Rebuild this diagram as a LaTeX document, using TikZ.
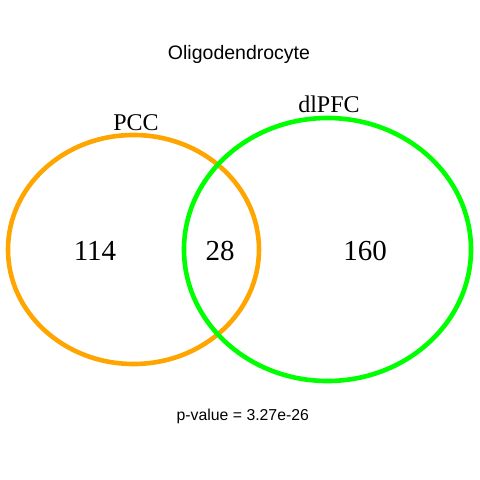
\documentclass[tikz,border=0pt]{standalone}
\usepackage{fontspec}
\setmainfont{Liberation Serif}
\newfontfamily\arialfont{Liberation Sans}
\definecolor{vorange}{HTML}{FFA500}
\definecolor{vgreen}{HTML}{00FF00}
\begin{document}
\begin{tikzpicture}[x=1pt,y=-1pt,
  setline/.style={line width=4.6pt},
  setlabel/.style={anchor=base,inner sep=0pt,font=\fontsize{24}{24}\selectfont},
  countlabel/.style={anchor=base,inner sep=0pt,font=\fontsize{29}{29}\selectfont},
  sanslabel/.style={anchor=base,inner sep=0pt}]
\useasboundingbox[fill=white] (0,0) rectangle (480,480);
\draw[setline,vorange] (133.5,249.5) ellipse [x radius=125.5, y radius=114.5];
\draw[setline,vgreen] (327.5,249.5) ellipse [x radius=143.5, y radius=131.5];
\node[sanslabel,font=\arialfont\fontsize{19.5}{19.5}\selectfont] (title) at (239,59) {Oligodendrocyte};
\node[setlabel] (pcc) at (136,130) {PCC};
\node[setlabel] (dlpfc) at (329,112.5) {dlPFC};
\node[countlabel] (a) at (95,260) {114};
\node[countlabel] (ab) at (220,260) {28};
\node[countlabel] (b) at (365,260) {160};
\node[sanslabel,font=\arialfont\fontsize{15.8}{15.8}\selectfont] (pval) at (242.8,420.5) {p-value = 3.27e-26};
\end{tikzpicture}
\end{document}
